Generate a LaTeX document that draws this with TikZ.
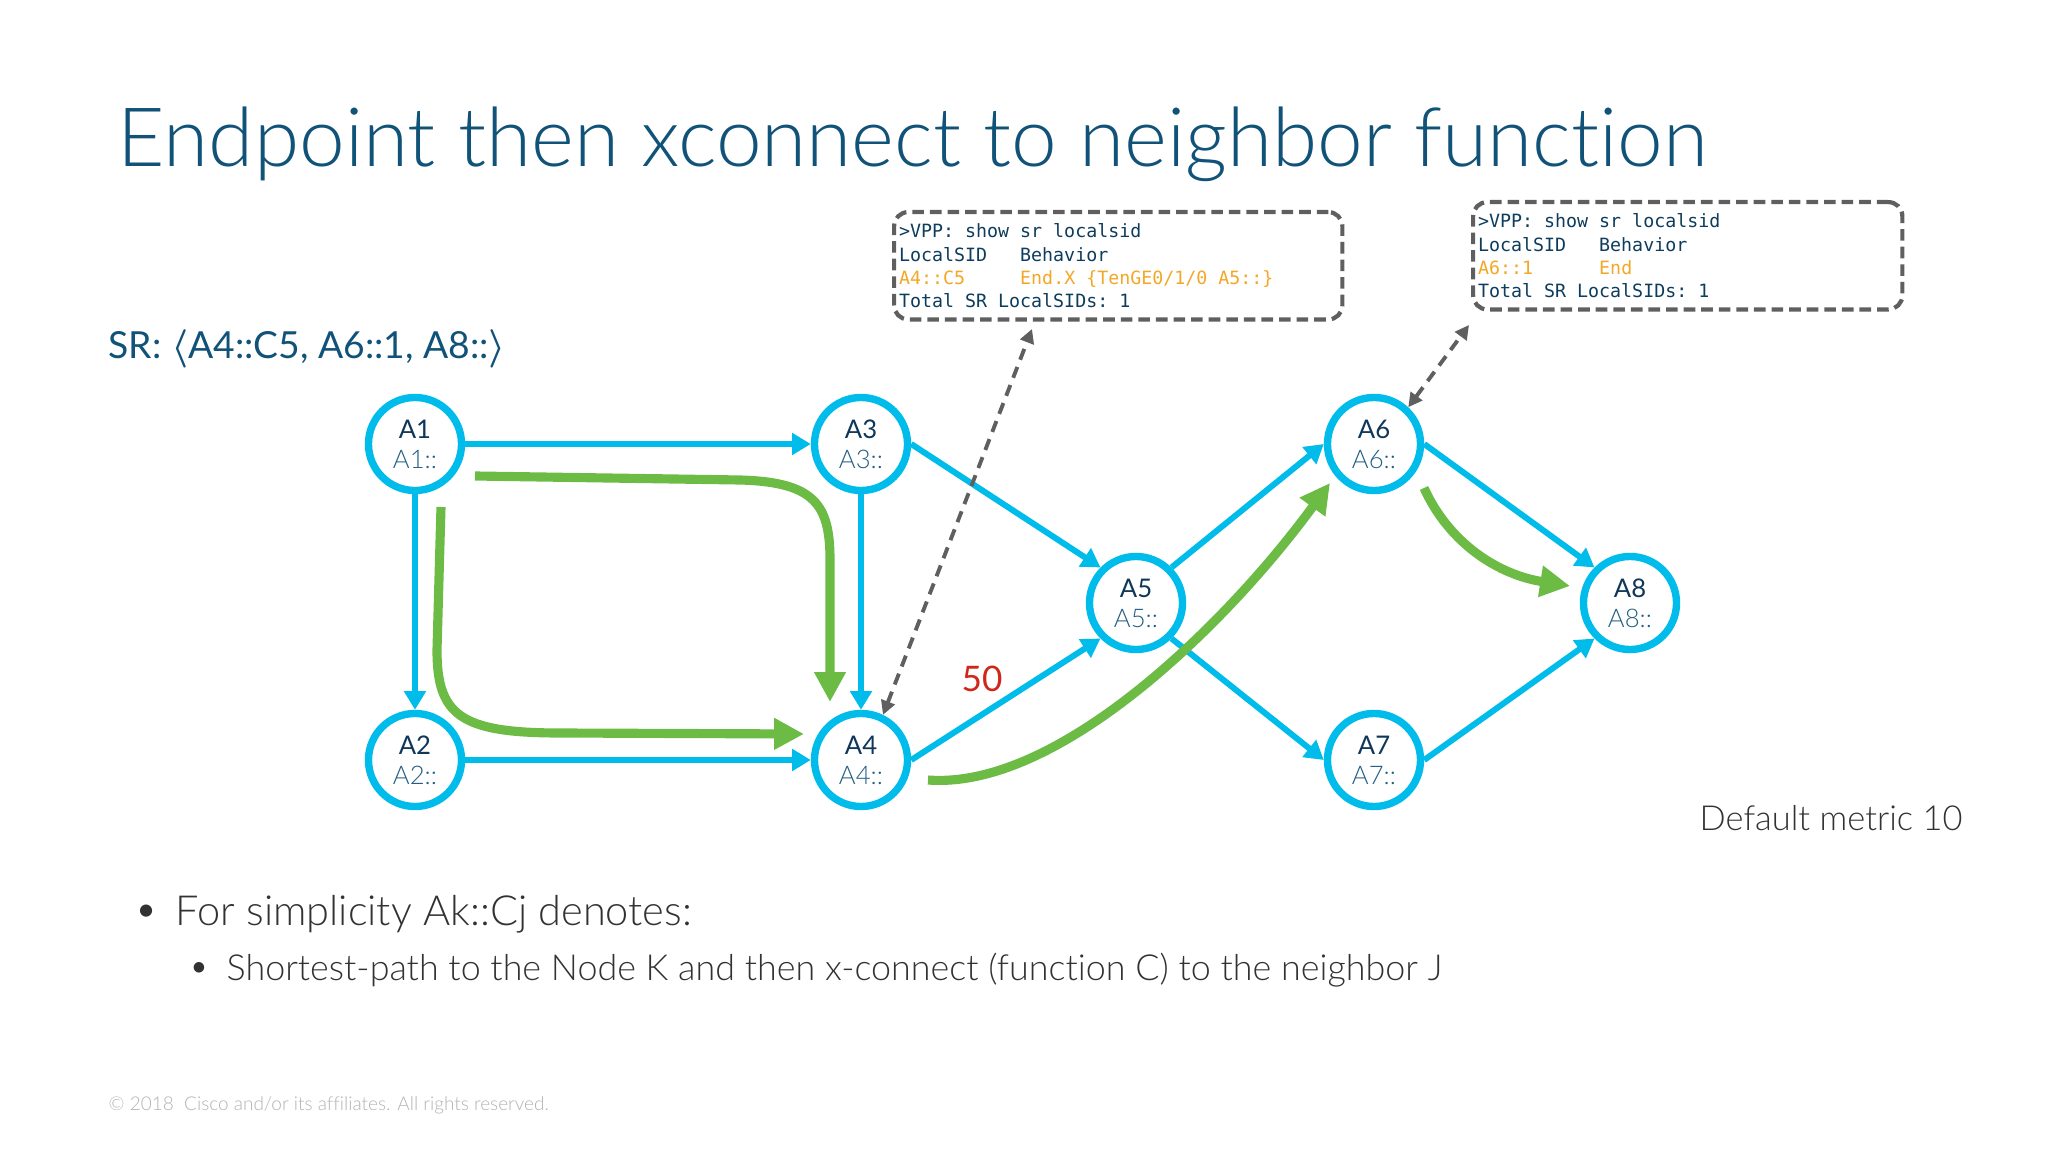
\documentclass[tikz,border=0pt]{standalone}
\usepackage{fontspec}
\setmainfont{Lato}[Ligatures=NoCommon]
\newfontfamily\thinfont{Lato Light}[Ligatures=NoCommon]
\setmonofont{DejaVu Sans Mono}
\usetikzlibrary{arrows.meta}

\definecolor{ciscoblue}{RGB}{0,188,235}
\definecolor{pathgreen}{RGB}{108,187,69}
\definecolor{titleblue}{RGB}{17,82,120}
\definecolor{labeldark}{RGB}{15,55,90}
\definecolor{labellight}{RGB}{35,95,130}
\definecolor{boxgray}{RGB}{95,95,95}
\definecolor{boxtext}{RGB}{14,60,92}
\definecolor{sidorange}{RGB}{243,167,38}
\definecolor{metricred}{RGB}{208,39,29}
\definecolor{bodygray}{RGB}{50,50,50}

\newcommand{\rlabel}[1]{{\color{labeldark}A#1}\\{\thinfont\color{labellight}A#1::}}
\newcommand{\gap}[1]{\hspace*{#1\fontcharwd\font`0}}

\begin{document}
\begin{tikzpicture}[x=0.01cm, y=-0.01cm,
    router/.style={circle, draw=ciscoblue, line width=2.1pt, fill=white,
      minimum size=0.93cm, inner sep=0pt, align=center,
      font=\fontsize{7.3}{8.5}\selectfont},
    link/.style={ciscoblue, line width=1.7pt, -{Triangle[length=5.3pt,width=6pt]}},
    sidpath/.style={pathgreen, line width=2.6pt, -{Triangle[length=8.5pt,width=8.5pt]}},
    sidlink/.style={boxgray, line width=1.1pt, dash pattern=on 3.3pt off 2.2pt,
      {Triangle[length=4pt,width=4pt]}-{Triangle[length=4pt,width=4pt]}},
    sidbox/.style={draw=boxgray, line width=1.2pt, dash pattern=on 3.3pt off 1.7pt,
      rounded corners=0.14cm, anchor=north west, align=left, inner xsep=0.05cm,
      minimum height=1.06cm, text=boxtext,
      font=\ttfamily\fontsize{5.2}{6.6}\selectfont},
    plain/.style={inner sep=0pt, anchor=west}]

    \useasboundingbox (0,0) rectangle (2048,1152);

    % Title and segment list
    \node[plain, anchor=base west, text=titleblue,
      font=\thinfont\fontsize{23.3}{28}\selectfont] (title) at (117,167)
      {Endpoint then xconnect to neighbor function};
    \node[plain, text=titleblue, font=\fontsize{10.6}{12}\selectfont] (sr) at (108,349)
      {SR: {\boldmath$\langle$}A4::C5, A6::1, A8::{\boldmath$\rangle$}};

    % Routers
    \node[router] (A1) at (415,444) {\rlabel{1}};
    \node[router] (A2) at (415,760) {\rlabel{2}};
    \node[router] (A3) at (861,444) {\rlabel{3}};
    \node[router] (A4) at (861,760) {\rlabel{4}};
    \node[router] (A5) at (1136,603) {\rlabel{5}};
    \node[router] (A6) at (1374,444) {\rlabel{6}};
    \node[router] (A7) at (1374,760) {\rlabel{7}};
    \node[router] (A8) at (1630,603) {\rlabel{8}};

    % Links
    \draw[link] (A1) -- (A3);
    \draw[link] (A1) -- (A2);
    \draw[link] (A3) -- (A4);
    \draw[link] (A2) -- (A4);
    \draw[link] (A3.east) -- (A5.north west);
    \draw[link] (A4.east) -- (A5.south west);
    \draw[link] (A5.north east) -- (A6.west);
    \draw[link] (A5.south east) -- (A7.west);
    \draw[link] (A6.east) -- (A8.north west);
    \draw[link] (A7.east) -- (A8.south west);

    \node[text=metricred, font=\fontsize{10}{12}\selectfont] (w45) at (982,679) {50};

    % Green traffic paths
    \coordinate (g1s) at (475,476);
    \coordinate (g1e) at (830,702);
    \coordinate (g2s) at (441,507);
    \coordinate (g2e) at (804,734);
    \coordinate (g3s) at (928,780);
    \coordinate (g3e) at (1330,483);
    \coordinate (g4s) at (1424,488);
    \coordinate (g4e) at (1570,586);
    \draw[sidpath] (g1s) -- (740,480) .. controls (815,482) and (830,505) .. (830,560) -- (g1e);
    \draw[sidpath] (g2s) -- (437,650) .. controls (437,715) and (460,733) .. (560,733) -- (g2e);
    \draw[sidpath] (g3s) .. controls (1060,790) and (1230,620) .. (g3e);
    \draw[sidpath] (g4s) .. controls (1450,545) and (1500,575) .. (g4e);

    % LocalSID tables
    \node[sidbox, minimum width=4.48cm, text width=4.38cm] (box4) at (892,210)
      {>VPP:\gap{1}show\gap{1}sr\gap{1}localsid\\
       LocalSID\gap{3}Behavior\\
       {\color{sidorange}A4::C5\gap{5}End.X\gap{1}\{TenGE0/1/0\gap{1}A5::\}}\\
       Total\gap{1}SR\gap{1}LocalSIDs:\gap{1}1};
    \node[sidbox, minimum width=4.29cm, text width=4.19cm] (box6) at (1471,200)
      {>VPP:\gap{1}show\gap{1}sr\gap{1}localsid\\
       LocalSID\gap{3}Behavior\\
       {\color{sidorange}A6::1\gap{6}End}\\
       Total\gap{1}SR\gap{1}LocalSIDs:\gap{1}1};
    \coordinate (t4) at (1032,329);
    \coordinate (t6) at (1469,325);
    \draw[sidlink] (A4.64) -- (t4);
    \draw[sidlink] (A6.47) -- (t6);

    \node[plain, text=bodygray, font=\thinfont\fontsize{9.8}{11}\selectfont] (metric) at (1699,818)
      {Default metric 10};

    % Bullets
    \node[plain, text=bodygray, font=\thinfont\fontsize{11.8}{13}\selectfont] (d1) at (134,914) {\textbullet};
    \node[plain, text=bodygray, font=\thinfont\fontsize{11.8}{13}\selectfont] (b1) at (175,914)
      {For simplicity Ak::Cj denotes:};
    \node[plain, text=bodygray, font=\thinfont\fontsize{10.2}{12}\selectfont] (d2) at (188,970) {\textbullet};
    \node[plain, text=bodygray, font=\thinfont\fontsize{10.2}{12}\selectfont] (b2) at (226,970)
      {Shortest-path to the Node K and then x-connect (function C) to the neighbor J};

    \node[plain, text=black!30, font=\thinfont\fontsize{5.4}{6}\selectfont] (copy) at (108,1105)
      {© 2018\ \ Cisco and/or its affiliates. All rights reserved.};
\end{tikzpicture}
\end{document}
